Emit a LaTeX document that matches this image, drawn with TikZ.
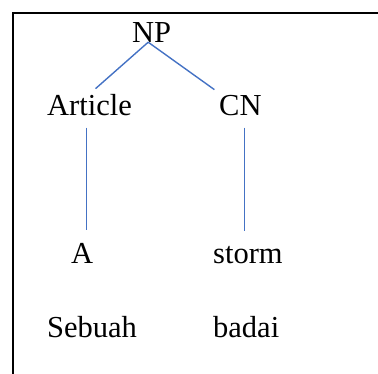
\documentclass[tikz,border=0pt]{standalone}
\usepackage{fontspec}
\setmainfont{Liberation Serif}
\begin{document}
\begin{tikzpicture}[x=1pt,y=-1pt,
  word/.style={anchor=base west,inner sep=0pt,font=\fontsize{30.5}{36}\selectfont},
  branch/.style={draw={rgb,255:red,68;green,114;blue,196},line width=1.4pt},
  frame/.style={draw=black,line width=2pt}]
\useasboundingbox (0,0) rectangle (378,373);
% cell border
\draw[frame] (13,380) -- (13,13) -- (390,13);
% tree labels
\node[word] (np) at (132,42) {NP};
\node[word] (art) at (47,115) {Article};
\node[word] (cn) at (219,115) {CN};
\node[word] (a) at (71,263) {A};
\node[word] (storm) at (213,263) {storm};
\node[word] (sebuah) at (47,337) {Sebuah};
\node[word] (badai) at (213,337) {badai};
% branches
\draw[branch] ([xshift=-3.5pt]np.south) -- ([xshift=6pt,yshift=5pt]art.north);
\draw[branch] ([xshift=-3.5pt]np.south) -- ([xshift=-26pt,yshift=5pt]cn.north);
\coordinate (artfoot) at ([xshift=-3pt,yshift=-12pt]art.south);
\coordinate (cnfoot) at ([xshift=4pt,yshift=-12pt]cn.south);
\draw[branch,shorten >=13pt] (artfoot) -- (artfoot |- a.north);
\draw[branch,shorten >=15pt] (cnfoot) -- (cnfoot |- storm.north);
\end{tikzpicture}
\end{document}
